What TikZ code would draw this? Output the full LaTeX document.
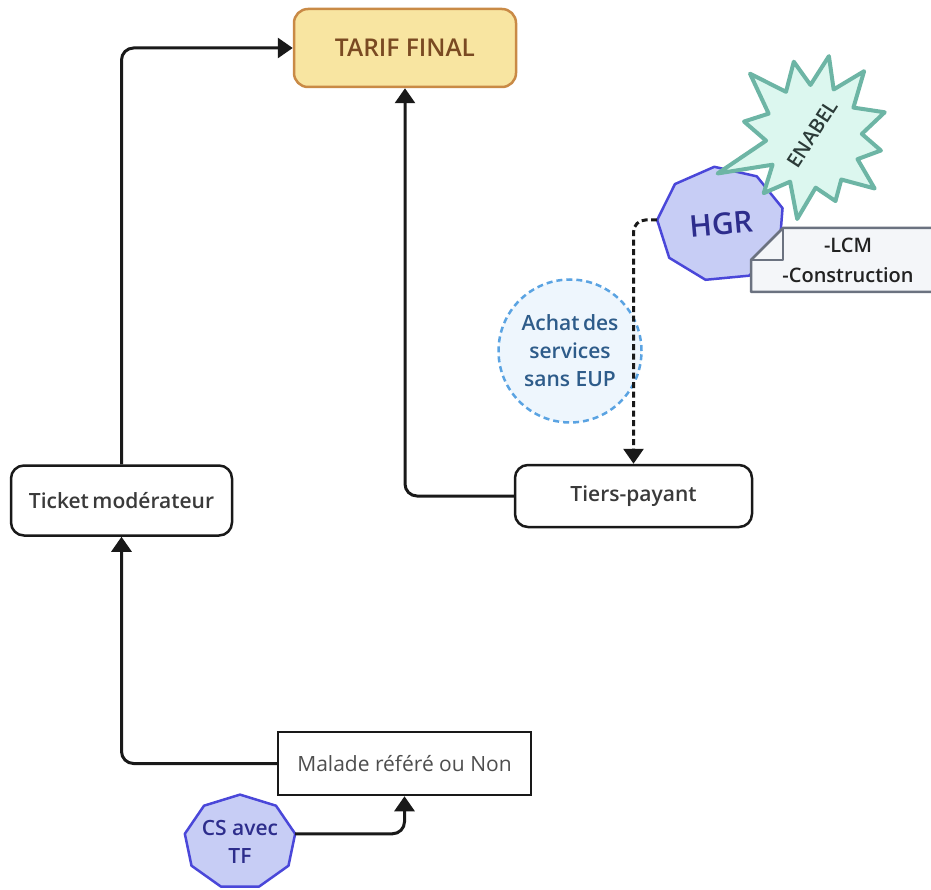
\documentclass[tikz,border=0pt]{standalone}
\usepackage{fontspec}
\setmainfont{Open Sans}
\IfFontExistsTF{Open Sans SemiBold}{\newfontfamily\sbf{Open Sans SemiBold}}{%
  \IfFontExistsTF{Open Sans Semibold}{\newfontfamily\sbf{Open Sans Semibold}}{%
    \newfontfamily\sbf{Open Sans}[FakeBold=1.6]}}
\usetikzlibrary{shapes.geometric,arrows.meta,calc}
\definecolor{tarifFill}{HTML}{F8E5A1}
\definecolor{tarifLine}{HTML}{C98A46}
\definecolor{tarifText}{HTML}{7A4A22}
\definecolor{boxText}{HTML}{3A3A3A}
\definecolor{polyFill}{HTML}{C7CDF5}
\definecolor{polyLine}{HTML}{4A47D9}
\definecolor{polyText}{HTML}{2D2D8C}
\definecolor{achatFill}{HTML}{EEF6FD}
\definecolor{achatLine}{HTML}{5AA3E2}
\definecolor{achatText}{HTML}{2E5C8A}
\definecolor{starFill}{HTML}{DCF7EF}
\definecolor{starLine}{HTML}{6DB5A5}
\definecolor{starText}{HTML}{2B3B38}
\definecolor{noteFill}{HTML}{F4F6F9}
\definecolor{noteLine}{HTML}{6B7280}
\definecolor{noteText}{HTML}{222222}
\tikzset{
  roundbox/.style={draw=black!90, line width=2.5pt, fill=white, rounded corners=13pt,
    text=boxText, font=\sbf\fontsize{21}{26}\selectfont, inner sep=0pt},
  tarifbox/.style={draw=tarifLine, line width=2.5pt, fill=tarifFill, rounded corners=14pt,
    text=tarifText, font=\sbf\fontsize{24.5}{30}\selectfont, inner sep=0pt},
  plainbox/.style={draw=black!90, line width=2.5pt, fill=white,
    text=boxText!90, font=\fontsize{21}{26}\selectfont, inner sep=0pt},
  polyshape/.style={draw=polyLine, line width=2.5pt, fill=polyFill, line join=round},
  polytext/.style={text=polyText, align=center, inner sep=0pt},
  achatbubble/.style={circle, draw=achatLine, line width=2.5pt, dash pattern=on 6pt off 4pt,
    fill=achatFill, text=achatText, align=center, inner sep=0pt,
    font=\sbf\fontsize{21}{28}\selectfont},
  starshape/.style={draw=starLine, line width=4pt, fill=starFill, line join=round},
  noteshape/.style={draw=noteLine, line width=2.5pt, fill=noteFill, line join=round},
  conn/.style={draw=black!90, line width=3pt, rounded corners=12pt,
    -{Triangle[width=20pt,length=15pt]}},
  dconn/.style={conn, dash pattern=on 6pt off 3.5pt},
}
\begin{document}
\begin{tikzpicture}[x=1pt,y=-1pt]
\useasboundingbox (0,0) rectangle (931,890);

% nodes
\node[tarifbox, minimum width=222pt, minimum height=78pt] (tarif) at (405,48) {TARIF FINAL};
\node[roundbox, minimum width=221pt, minimum height=70pt] (ticket) at (121.5,500.5) {Ticket\hspace{-2pt} modérateur};
\node[roundbox, minimum width=237pt, minimum height=62pt] (tiers) at (633.5,496) {Tiers-payant};
\node[plainbox, minimum width=253pt, minimum height=63pt] (malade) at (404.5,763.5) {Malade référé ou Non};
\node[achatbubble, minimum size=143pt] (achat) at (570,351) {Achat\hspace{-2pt} des\\services\\sans EUP};

% CS avec TF (9-gon)
\draw[polyshape, shift={(240,842)}] (90:56pt and 47.4pt)
  \foreach \a in {130,170,...,410} { -- (\a:56pt and 47.4pt) } -- cycle;
\node[polytext, font=\sbf\fontsize{21}{28}\selectfont] (cs) at (240,842) {CS avec\\TF};
\coordinate (csE) at ($(cs.center)+(10:56pt and 47.4pt)$);

% HGR (9-gon)
\draw[polyshape, shift={(721,224)}] (96:64pt and 57.5pt)
  \foreach \a in {136,176,...,416} { -- (\a:64pt and 57.5pt) } -- cycle;
\node[polytext, font=\sbf\fontsize{30}{36}\selectfont, rotate=5] (hgr) at (721,224) {HGR};
\coordinate (hgrW) at ($(hgr.center)+(176:64pt and 57.5pt)$);

% ENABEL starburst
\draw[starshape, shift={(810,138)}]
  (133:88pt) -- (117.5:52pt) -- (102:78pt) -- (89.5:53pt) -- (77:84pt) -- (64:54pt) --
  (51:86pt) -- (35:53pt) -- (19:79pt) -- (4.5:52pt) -- (-10:72pt) -- (-24:52pt) --
  (-38:82pt) -- (-53:52pt) -- (-68:68pt) -- (-83.5:50pt) -- (-99:82pt) -- (-114.5:48pt) --
  (-130:72pt) -- (-144.5:46pt) -- (-159:99pt) -- (-176.5:44pt) -- (166:68pt) -- (149.5:48pt) -- cycle;
\node[text=starText, font=\sbf\fontsize{20}{24}\selectfont, rotate=57, inner sep=0pt] (enabel) at (812,134) {ENABEL};

% note
\draw[noteshape] (783,228) -- (940,228) -- (940,292) -- (751,292) -- (751,260) -- cycle;
\draw[noteshape, fill=none] (783,228) -- (783,260) -- (751,260);
\node[text=noteText, align=center, inner sep=0pt, font=\sbf\fontsize{20}{30}\selectfont] (note) at (848,260) {-LCM\\-Construction};

% connectors
\draw[conn] (ticket.north) |- (tarif.west);
\draw[conn] (tiers.west) -| (tarif.south);
\draw[conn] (malade.west) -| (ticket.south);
\draw[conn] (csE) -| (malade.south);
\draw[dconn] (hgrW) -| (tiers.north);
\end{tikzpicture}
\end{document}
